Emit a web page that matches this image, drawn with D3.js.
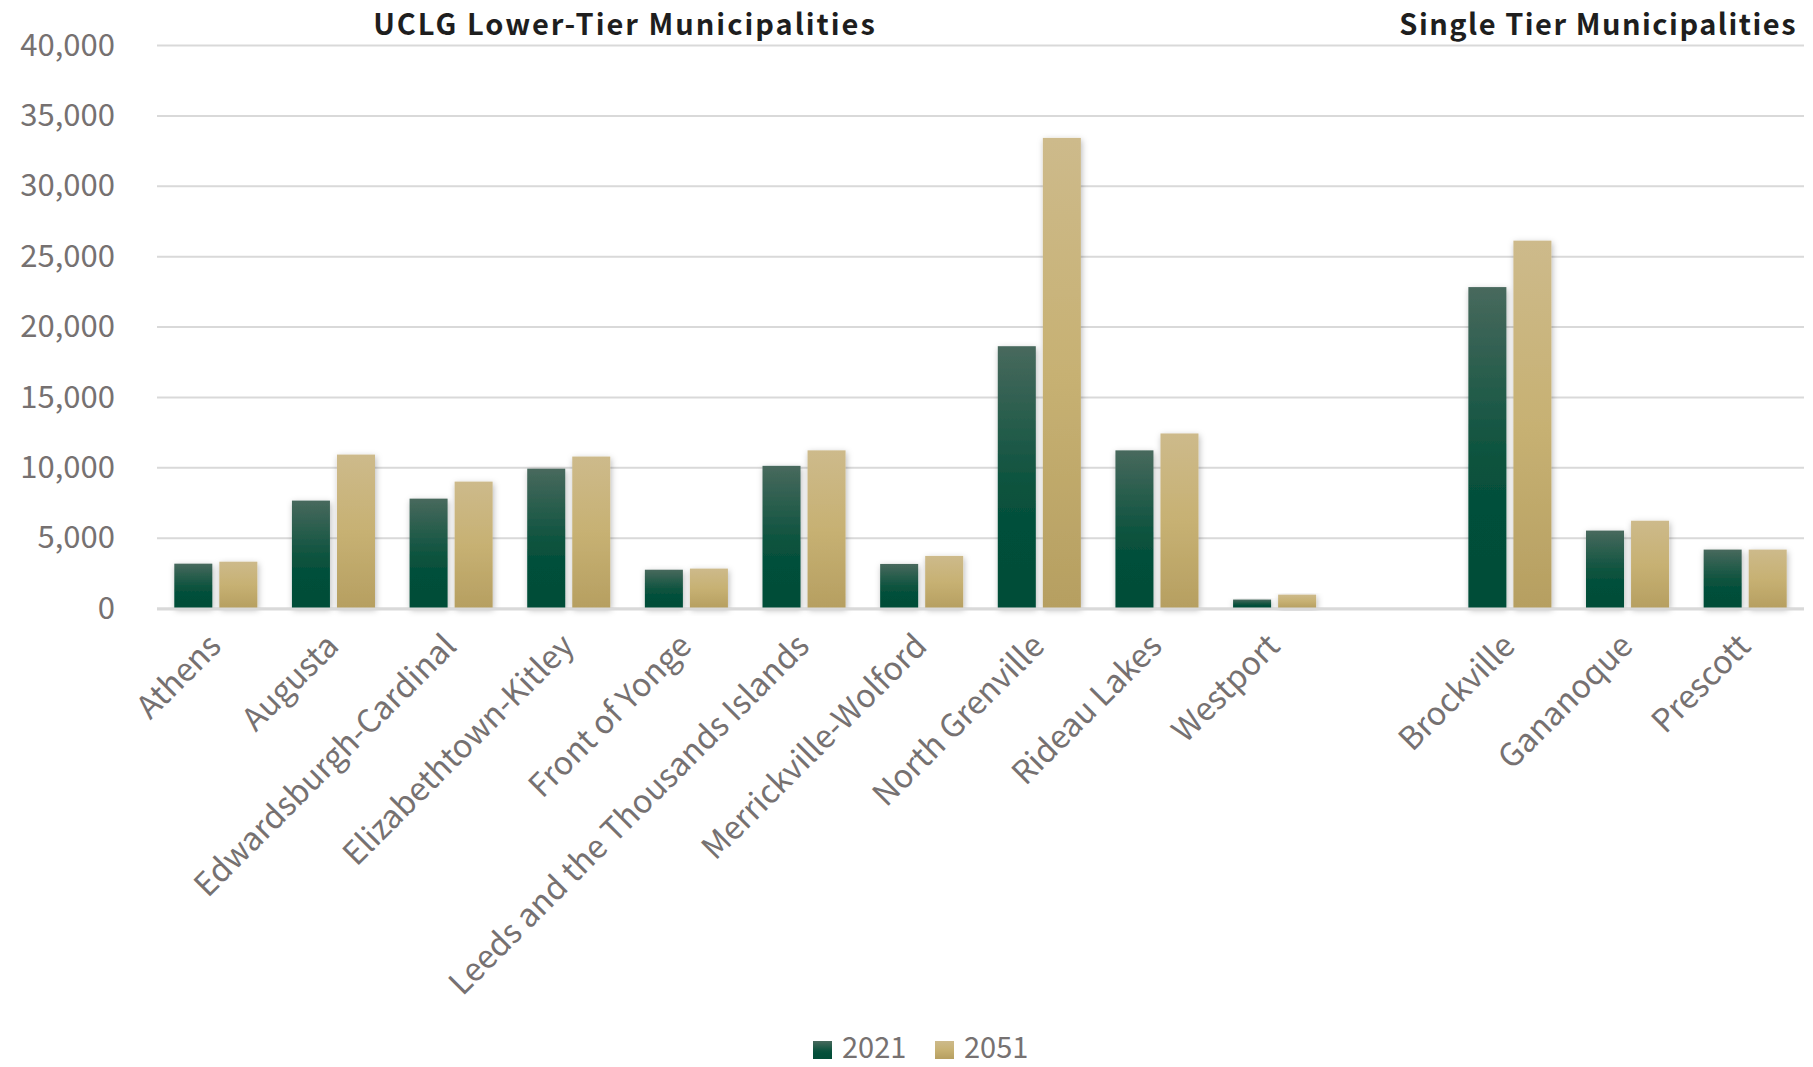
<!DOCTYPE html>
<html>
<head>
<meta charset="utf-8">
<script src="https://cdn.jsdelivr.net/npm/d3@7"></script>
<style>
  html, body { margin: 0; padding: 0; background: #ffffff; }
  svg { display: block; }
  .tick-label { font-family: "Noto Sans CJK JP", "Noto Sans", sans-serif; fill: #767171; }
  .title { font-family: "Noto Sans CJK JP", "Noto Sans", sans-serif; font-weight: bold; fill: #1e1e1e; }
</style>
</head>
<body>
<svg id="chart" width="1813" height="1067"></svg>
<script>
// Municipal populations, 2021 and 2051
const lowerTier = ["Athens", "Augusta", "Edwardsburgh-Cardinal", "Elizabethtown-Kitley",
  "Front of Yonge", "Leeds and the Thousands Islands", "Merrickville-Wolford",
  "North Grenville", "Rideau Lakes", "Westport"];
const singleTier = ["Brockville", "Gananoque", "Prescott"];
const seriesNames = ["2021", "2051"];
const pop2021 = [3150, 7630, 7770, 9900, 2720, 10100, 3130, 18600, 11200, 600, 22800, 5500, 4150];
const pop2051 = [3290, 10900, 8980, 10760, 2800, 11200, 3700, 33400, 12400, 950, 26100, 6200, 4150];
const yTicks = [0, 5000, 10000, 15000, 20000, 25000, 30000, 35000, 40000];
const groupTitles = ["UCLG Lower-Tier Municipalities", "Single Tier Municipalities"];

const categories = lowerTier.concat(singleTier);
const gapKey = "__gap__";
const domain = lowerTier.concat([gapKey], singleTier);
const rows = categories.map((c, i) => ({ name: c, values: [pop2021[i], pop2051[i]] }));

const svg = d3.select("#chart");
const plot = { left: 157, right: 1804, top: 45, bottom: 608 };

const x = d3.scaleBand().domain(domain).range([plot.left, plot.right]).padding(0);
const inset = x.bandwidth() * 0.147;
const x1 = d3.scaleBand().domain(seriesNames)
  .range([inset, x.bandwidth() - inset]).paddingInner(0.156).paddingOuter(0);
const y = d3.scaleLinear().domain([0, 40000]).range([plot.bottom, plot.top]);

// gradients and shadow
const defs = svg.append("defs");
const gradStops = {
  "2021": [["0%", "#48695d"], ["55%", "#0a523d"], ["70%", "#034f3a"], ["100%", "#034d38"]],
  "2051": [["0%", "#cdba8b"], ["50%", "#c7b173"], ["100%", "#b69f61"]]
};
seriesNames.forEach(s => {
  const g = defs.append("linearGradient").attr("id", "grad" + s)
    .attr("x1", 0).attr("y1", 0).attr("x2", 0).attr("y2", 1);
  gradStops[s].forEach(([o, c]) => g.append("stop").attr("offset", o).attr("stop-color", c));
});
const shadow = defs.append("filter").attr("id", "barShadow")
  .attr("x", "-30%").attr("y", "-10%").attr("width", "160%").attr("height", "130%");
shadow.append("feDropShadow").attr("dx", 1).attr("dy", 2).attr("stdDeviation", 3)
  .attr("flood-color", "#000").attr("flood-opacity", 0.28);

// y axis with gridlines
const yAxis = d3.axisLeft(y).tickValues(yTicks).tickSize(-(plot.right - plot.left))
  .tickFormat(d3.format(","));
const yg = svg.append("g").attr("transform", `translate(${plot.left},0)`).call(yAxis);
yg.select(".domain").remove();
yg.selectAll(".tick line").attr("stroke", "#d9d9d9").attr("stroke-width", 2);
yg.selectAll(".tick text").attr("class", "tick-label").attr("x", -42)
  .attr("font-size", 31).attr("dy", "0.33em");

// bars
const groups = svg.append("g").selectAll("g").data(rows).join("g")
  .attr("transform", d => `translate(${x(d.name)},0)`);
groups.selectAll("rect").data(d => d.values.map((v, i) => ({ s: seriesNames[i], v })))
  .join("rect")
  .attr("x", d => x1(d.s))
  .attr("width", x1.bandwidth())
  .attr("y", d => y(d.v))
  .attr("height", d => y(0) - y(d.v))
  .attr("fill", d => `url(#grad${d.s})`)
  .attr("filter", "url(#barShadow)");

// baseline
svg.append("line").attr("x1", plot.left).attr("x2", plot.right)
  .attr("y1", y(0) + 1).attr("y2", y(0) + 1)
  .attr("stroke", "#d9d9d9").attr("stroke-width", 3);

// category labels
const xAxis = d3.axisBottom(x).tickValues(categories).tickSize(0);
const xg = svg.append("g").attr("transform", `translate(0,${plot.bottom})`).call(xAxis);
xg.select(".domain").remove();
xg.selectAll(".tick text")
  .attr("class", "tick-label")
  .attr("font-size", 32)
  .attr("text-anchor", "end")
  .attr("y", 0).attr("dy", 0)
  .attr("transform", "translate(7,40) rotate(-45)");

// group titles
svg.append("text").attr("class", "title").attr("x", 625).attr("y", 35)
  .attr("text-anchor", "middle").attr("font-size", 29).attr("letter-spacing", 2)
  .text(groupTitles[0]);
svg.append("text").attr("class", "title").attr("x", 1797).attr("y", 35)
  .attr("text-anchor", "end").attr("font-size", 29).attr("letter-spacing", 1.5)
  .text(groupTitles[1]);

// legend
const legendX = [813, 935];
const legend = svg.append("g");
seriesNames.forEach((s, i) => {
  legend.append("rect").attr("x", legendX[i]).attr("y", 1041).attr("width", 19).attr("height", 18)
    .attr("fill", `url(#grad${s})`);
  legend.append("text").attr("class", "tick-label").attr("x", legendX[i] + 29).attr("y", 1058)
    .attr("font-size", 29).text(s);
});
</script>
</body>
</html>
